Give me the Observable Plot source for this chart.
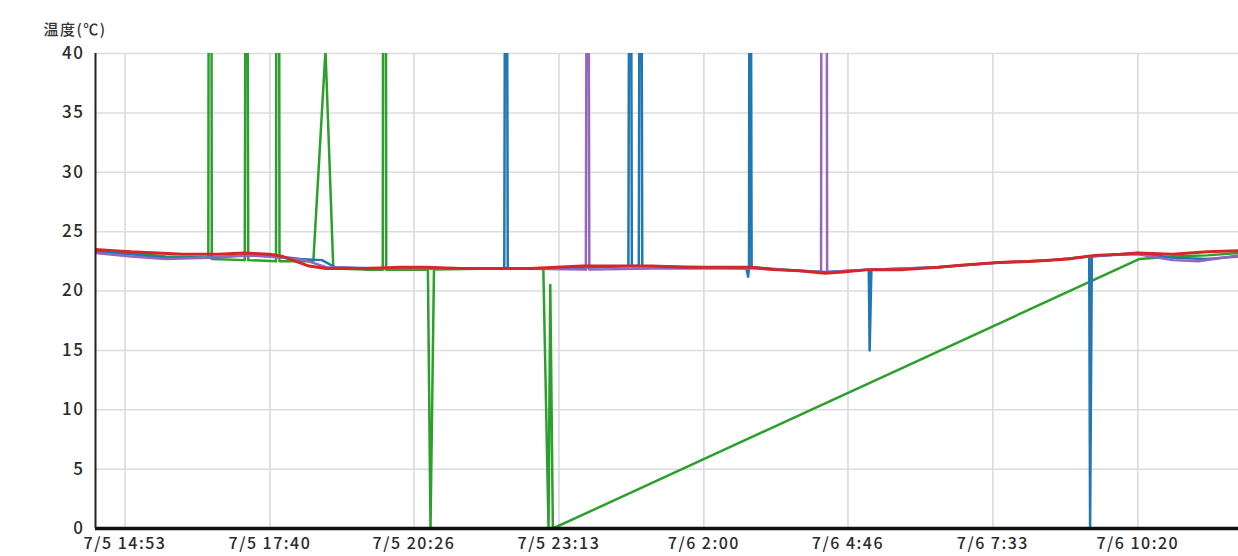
<!DOCTYPE html>
<html>
<head>
<meta charset="utf-8">
<script src="https://cdn.jsdelivr.net/npm/d3@7"></script>
<script src="https://cdn.jsdelivr.net/npm/@observablehq/plot@0.6"></script>
<style>
  html, body { margin: 0; padding: 0; background: #fff; }
  #chart { width: 1238px; height: 556px; }
  #chart svg text { letter-spacing: 1.5px; }
  #chart svg g[aria-label="x-axis tick label"] text { letter-spacing: 2px; }
</style>
</head>
<body>
<div id="chart"></div>
<script>
// ---- data (time "M/D H:MM", temperature °C) ----
const yLabel = "温度(℃)";
const yTicks = [0, 5, 10, 15, 20, 25, 30, 35, 40];
const xTickLabels = ["7/5 14:53", "7/5 17:40", "7/5 20:26", "7/5 23:13", "7/6 2:00", "7/6 4:46", "7/6 7:33", "7/6 10:20"];
const xDomain = ["7/5 14:19", "7/6 12:16"];

const greenSeries = [
  ["7/5 14:19", 23.3], ["7/5 15:00", 23.2], ["7/5 15:40", 22.9], ["7/5 16:29", 22.8],
  ["7/5 16:30", 85], ["7/5 16:32", 85], ["7/5 16:33", 22.7], ["7/5 17:11", 22.6],
  ["7/5 17:13", 85], ["7/5 17:15", 22.6], ["7/5 17:47", 22.5], ["7/5 17:48", 85],
  ["7/5 17:50", 85], ["7/5 17:51", 22.5], ["7/5 18:30", 22.5], ["7/5 18:44", 40.3],
  ["7/5 18:53", 21.9], ["7/5 19:30", 21.8], ["7/5 19:50", 21.8], ["7/5 19:51", 85],
  ["7/5 19:53", 85], ["7/5 19:54", 21.8], ["7/5 20:20", 21.8], ["7/5 20:42", 21.8],
  ["7/5 20:45", 0], ["7/5 20:49", 21.8], ["7/5 22:00", 21.9], ["7/5 22:55", 21.9],
  ["7/5 23:01", 0], ["7/5 23:03", 20.5], ["7/5 23:06", 0], ["7/6 10:22", 22.7],
  ["7/6 11:00", 22.9], ["7/6 11:40", 23.0], ["7/6 12:16", 23.2]
];

const blueSeries = [
  ["7/5 14:19", 23.3], ["7/5 15:00", 23.1], ["7/5 15:40", 22.8], ["7/5 16:30", 22.8],
  ["7/5 17:10", 23.0], ["7/5 17:50", 22.9], ["7/5 18:15", 22.7], ["7/5 18:40", 22.6],
  ["7/5 18:55", 22.0], ["7/5 19:30", 21.9], ["7/5 21:00", 21.9], ["7/5 22:10", 21.9],
  ["7/5 22:12", 85], ["7/5 22:14", 21.9], ["7/5 23:20", 21.9], ["7/6 0:33", 22.1],
  ["7/6 0:35", 85], ["7/6 0:37", 22.1], ["7/6 0:45", 22.1], ["7/6 0:47", 85],
  ["7/6 0:49", 22.1], ["7/6 2:00", 22.0], ["7/6 2:49", 21.9], ["7/6 2:51", 21.2],
  ["7/6 2:52", 22.0], ["7/6 2:53", 85], ["7/6 2:55", 22.0], ["7/6 3:50", 21.7],
  ["7/6 4:20", 21.6], ["7/6 5:10", 21.8], ["7/6 5:11", 15], ["7/6 5:13", 21.8],
  ["7/6 6:30", 22.0], ["7/6 7:40", 22.4], ["7/6 8:40", 22.6], ["7/6 9:24", 22.9],
  ["7/6 9:25", 0], ["7/6 9:27", 22.9], ["7/6 10:20", 23.2], ["7/6 11:00", 22.8],
  ["7/6 11:40", 22.7], ["7/6 12:16", 22.9]
];

const purpleSeries = [
  ["7/5 14:19", 23.2], ["7/5 15:00", 22.9], ["7/5 15:40", 22.7], ["7/5 16:30", 22.8],
  ["7/5 17:20", 23.0], ["7/5 17:55", 22.8], ["7/5 18:20", 22.6], ["7/5 18:45", 22.0],
  ["7/5 20:00", 21.9], ["7/5 22:00", 21.9], ["7/5 23:44", 21.8], ["7/5 23:46", 85],
  ["7/5 23:48", 21.8], ["7/6 1:00", 21.9], ["7/6 3:00", 21.9], ["7/6 4:15", 21.6],
  ["7/6 4:16", 85], ["7/6 4:21", 85], ["7/6 4:22", 21.6], ["7/6 5:10", 21.8],
  ["7/6 6:30", 22.0], ["7/6 7:40", 22.4], ["7/6 8:40", 22.6], ["7/6 9:40", 23.0],
  ["7/6 10:20", 23.1], ["7/6 11:00", 22.6], ["7/6 11:30", 22.5], ["7/6 12:16", 23.0]
];

const redSeries = [
  ["7/5 14:19", 23.5], ["7/5 14:40", 23.4], ["7/5 15:00", 23.3], ["7/5 15:30", 23.2],
  ["7/5 16:00", 23.1], ["7/5 16:40", 23.1], ["7/5 17:10", 23.2], ["7/5 17:40", 23.1],
  ["7/5 17:55", 22.9], ["7/5 18:10", 22.5], ["7/5 18:25", 22.1], ["7/5 18:45", 21.9],
  ["7/5 19:30", 21.9], ["7/5 20:10", 22.0], ["7/5 20:40", 22.0], ["7/5 21:20", 21.9],
  ["7/5 22:00", 21.9], ["7/5 22:40", 21.9], ["7/5 23:10", 22.0], ["7/5 23:40", 22.1],
  ["7/6 0:20", 22.1], ["7/6 1:00", 22.1], ["7/6 1:40", 22.0], ["7/6 2:20", 22.0],
  ["7/6 2:55", 22.0], ["7/6 3:20", 21.8], ["7/6 3:50", 21.7], ["7/6 4:20", 21.5],
  ["7/6 4:40", 21.6], ["7/6 5:10", 21.8], ["7/6 5:50", 21.8], ["7/6 6:30", 22.0],
  ["7/6 7:00", 22.2], ["7/6 7:40", 22.4], ["7/6 8:20", 22.5], ["7/6 9:00", 22.7],
  ["7/6 9:30", 23.0], ["7/6 10:00", 23.1], ["7/6 10:20", 23.2], ["7/6 11:00", 23.1],
  ["7/6 11:40", 23.3], ["7/6 12:16", 23.4]
];

const seriesColors = { green: "#2ca02c", blue: "#1f77b4", purple: "#9467bd", red: "#d62728" };
const seriesWidths = { green: 2.5, blue: 2.5, purple: 2.5, red: 3 };

// ---- helpers ----
function parseT(s) {
  const [md, hm] = s.split(" ");
  const [m, d] = md.split("/").map(Number);
  const [h, mi] = hm.split(":").map(Number);
  return new Date(Date.UTC(2017, m - 1, d, h, mi));
}
function fmtT(d) {
  return `${d.getUTCMonth() + 1}/${d.getUTCDate()} ${d.getUTCHours()}:${String(d.getUTCMinutes()).padStart(2, "0")}`;
}
const toRows = (arr, name) => arr.map(([t, v]) => ({ t: parseT(t), v, name }));

const xTickDates = xTickLabels.map(parseT);
const domain = xDomain.map(parseT);

const lineOpts = (name) => ({ x: "t", y: "v", stroke: seriesColors[name], strokeWidth: seriesWidths[name], clip: true, curve: "linear" });

const chart = Plot.plot({
  width: 1238,
  height: 556,
  marginLeft: 95,
  marginTop: 53,
  marginBottom: 28,
  marginRight: 0,
  style: { fontFamily: "'Noto Sans CJK JP', 'Noto Sans', sans-serif", fontSize: "17px", color: "#333", background: "#fff" },
  x: { type: "utc", domain, label: null },
  y: { domain: [0, 40], label: null },
  marks: [
    Plot.gridX(xTickDates, { stroke: "#d8d8d8", strokeOpacity: 1, strokeWidth: 1.5 }),
    Plot.gridY(yTicks, { stroke: "#dcdcdc", strokeOpacity: 1, strokeWidth: 1.5 }),
    Plot.axisX(xTickDates, { tickSize: 0, tickPadding: 9, tickFormat: fmtT, fontSize: 16, fontWeight: 500, fill: "#2a2a2a", ariaLabel: "x-axis tick label" }),
    Plot.axisY(yTicks, { tickSize: 0, tickPadding: 11, fontSize: 17, fontWeight: 500, fill: "#2a2a2a" }),
    Plot.line(toRows(greenSeries, "green"), lineOpts("green")),
    Plot.line(toRows(blueSeries, "blue"), lineOpts("blue")),
    Plot.line(toRows(purpleSeries, "purple"), lineOpts("purple")),
    Plot.line(toRows(redSeries, "red"), lineOpts("red")),
    Plot.ruleY([0], { stroke: "#111", strokeWidth: 3.5 }),
    Plot.ruleX([domain[0]], { stroke: "#222", strokeWidth: 2 }),
    Plot.text([yLabel], { frameAnchor: "top-left", dx: -52, dy: -23, textAnchor: "start", lineAnchor: "middle", fontSize: 15, fontWeight: 500, fill: "#333" })
  ]
});

document.getElementById("chart").appendChild(chart);
</script>
</body>
</html>
